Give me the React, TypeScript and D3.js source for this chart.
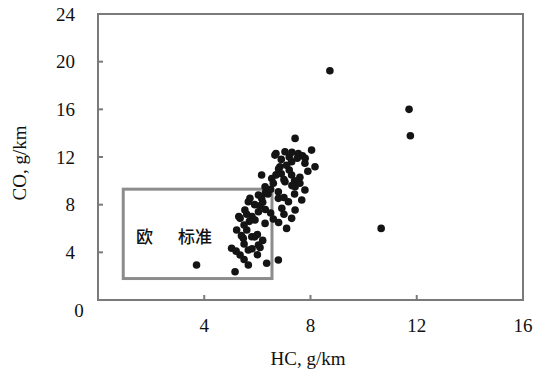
import React from "react";
import * as d3 from "d3";

const xTicks = [4, 8, 12, 16];
const yTicks = [4, 8, 12, 16, 20, 24];
const xTitle = "HC, g/km";
const yTitle = "CO, g/km";
const boxLabel1 = "欧";
const boxLabel2 = "标准";
const boxX = [0.95, 6.55];
const boxY = [1.8, 9.3];

const hcValues = [
  8.73, 11.71, 11.76, 10.66, 3.71,
  7.42, 8.04, 6.66, 7.04, 7.54, 7.79, 8.17, 7.29, 6.85, 6.16, 6.54, 7.29, 7.04, 7.42, 7.79, 6.29, 6.04, 6.79, 5.72,
  5.66, 6.16, 6.79, 7.17, 7.67, 5.53, 6.04, 5.91, 6.29, 6.92, 7.42, 7.29, 7.10, 5.35, 5.22, 5.60, 5.79, 5.47, 6.04, 5.03, 5.35, 5.66, 5.66, 5.16, 6.35, 6.79,
  5.30, 5.50, 5.80, 6.10, 5.90, 6.40, 6.60, 6.90, 7.20, 7.50, 7.70, 6.90, 7.10, 7.60, 7.90, 7.40, 7.00, 6.50, 6.80, 5.70, 5.40, 6.00, 6.20, 5.80, 5.20, 5.50, 6.00, 7.40, 7.20, 6.70,
  6.30, 6.50, 6.20, 6.70, 7.00, 7.30, 7.60, 7.80, 7.30, 6.80, 5.60, 6.30, 5.90, 5.50, 6.10, 7.00, 6.60,
];
const coValues = [
  19.24, 16.0, 13.78, 6.01, 2.94,
  13.56, 12.58, 12.16, 12.44, 12.3, 11.47, 11.18, 11.6, 11.18, 10.49, 10.2, 10.49, 9.92, 9.5, 9.23, 9.5, 8.81, 9.09, 8.53,
  8.25, 8.53, 8.53, 8.25, 8.39, 7.55, 7.41, 6.71, 6.43, 7.69, 7.55, 6.85, 6.01, 6.85, 5.87, 5.87, 5.31, 5.18, 4.61, 4.34, 3.78, 4.19, 2.94, 2.37, 3.08, 3.36,
  7.0, 6.3, 7.0, 7.9, 8.0, 8.9, 9.8, 10.6, 10.9, 11.9, 12.1, 11.8, 11.3, 10.3, 10.8, 8.9, 8.6, 7.3, 6.5, 6.6, 5.4, 5.5, 5.0, 4.3, 4.1, 3.4, 3.8, 10.0, 12.0, 12.3,
  9.0, 9.3, 8.2, 10.5, 10.1, 9.6, 9.8, 11.9, 12.4, 11.0, 7.2, 7.6, 5.3, 4.7, 4.4, 7.2, 6.8,
];

export default function App() {
  const W = 533, H = 372;
  const x = d3.scaleLinear().domain([0, 16]).range([98, 523]);
  const y = d3.scaleLinear().domain([0, 24]).range([300, 14]);
  const serif = "'Liberation Serif', 'Times New Roman', serif";
  const frame = "#7a7a7a";
  return (
    <svg width={W} height={H} style={{ position: "absolute", left: 0, top: 0 }}>
      <rect x={0} y={0} width={W} height={H} fill="#fff" />
      <rect x={x(0)} y={y(24)} width={x(16) - x(0)} height={y(0) - y(24)} fill="none" stroke={frame} strokeWidth={2} />
      {xTicks.slice(0, 3).map((t) => (
        <line key={"xt" + t} x1={x(t)} x2={x(t)} y1={y(0)} y2={y(0) - 5} stroke={frame} strokeWidth={2} />
      ))}
      {yTicks.slice(0, 5).map((t) => (
        <line key={"yt" + t} x1={x(0)} x2={x(0) + 5} y1={y(t)} y2={y(t)} stroke={frame} strokeWidth={2} />
      ))}
      <rect x={x(boxX[0])} y={y(boxY[1])} width={x(boxX[1]) - x(boxX[0])} height={y(boxY[0]) - y(boxY[1])} fill="none" stroke="#8c8c8c" strokeWidth={3} />
      <text x={136} y={243} fontFamily="'Noto Sans CJK SC', sans-serif" fontSize={17} fontWeight={500} fill="#111">{boxLabel1}</text>
      <text x={178} y={243} fontFamily="'Noto Sans CJK SC', sans-serif" fontSize={17} fontWeight={500} fill="#111">{boxLabel2}</text>
      {hcValues.map((v, i) => (
        <circle key={i} cx={x(v)} cy={y(coValues[i])} r={3.8} fill="#141414" />
      ))}
      {xTicks.map((t) => (
        <text key={"xl" + t} x={x(t)} y={332} textAnchor="middle" fontFamily={serif} fontSize={19} fill="#111">{t}</text>
      ))}
      {yTicks.map((t) => (
        <text key={"yl" + t} x={75} y={y(t) + 6.5} textAnchor="end" fontFamily={serif} fontSize={19} fill="#111">{t}</text>
      ))}
      <text x={79} y={317} textAnchor="middle" fontFamily={serif} fontSize={19} fill="#111">0</text>
      <text x={308} y={365} textAnchor="middle" fontFamily={serif} fontSize={19} fill="#111">{xTitle}</text>
      <text transform={`translate(26,163) rotate(-90)`} textAnchor="middle" fontFamily={serif} fontSize={19} fill="#111">{yTitle}</text>
    </svg>
  );
}
